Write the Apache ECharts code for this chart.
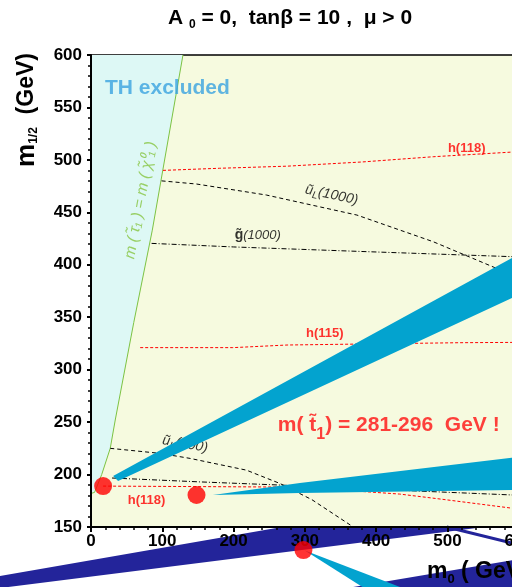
<!DOCTYPE html>
<html><head><meta charset="utf-8">
<script src="https://cdn.jsdelivr.net/npm/echarts@6/dist/echarts.min.js"></script>
<style>html,body{margin:0;padding:0;background:#fff}#c{width:512px;height:587px}</style>
</head><body><div id="c"></div>
<script>
// ---- data (m0, m1/2) in GeV ----
const thExcluded = [[0,182],[5,183],[15,200],[27,225],[34,252],[60,345],[86,433],[129,600],[0,600]];
const stauChiLine = [[0,182],[5,183],[15,200],[27,225],[34,252],[60,345],[86,433],[129,600]];
const h118Upper = [[101,490],[180,492],[275,494],[380,498],[480,503],[592,507.5]];
const h115 = [[69,321],[199,321],[275,323.5],[517,325.7],[592,326]];
const h118Lower = [[17,189],[293,188],[386,183.6],[433,181.4],[493,176.4],[545,171.9],[592,167.8]];
const uL1000 = [[99,480],[148,477],[246,466.5],[373,447.4],[480,422],[564,398],[600,388]];
const g1000 = [[85,420.4],[200,417],[387,412.5],[592,407.7]];
const g500 = [[29.5,196.7],[153,193],[265,190],[447,184.6],[592,180.5]];
const uL500 = [[27,225],[97,220.2],[139,215.4],[218,204.2],[265,191.5],[310,176],[368,150]];
const stopBand1 = [[31,198.6],[590.5,406.4],[650,428.5],[650,387],[590.5,368.3],[38,193.9]];
const stopBand2 = [[171,180.5],[293,192],[590,216],[650,221],[650,186],[590,185.3],[293,182.4]];
const bestPoints = [[17,189],[148,180.5],[298,128]];
// slide decorations that spill below the axis
const navyBandA = [[-200,94.7],[268,150],[552,150],[-200,85.6]];
const navyBandB = [[300,85],[700,131],[700,60],[300,60]];
const navyLine = [[499,150],[590.5,134.7],[650,124.8]];
const cyanTail = [[300,127.5],[452,88],[392,88]];
// label anchors
const h118UpperLabel = [527,511];
const h118LowerLabel = [78,175.7];
const h115Label = [328,334.6];
const uL1000Label = [337.5,466.5];
const g1000Label = [234,428];
const uL500Label = [132,229];
const thLabel = [19.6,568.5];
const stauLabel = [69.5,461.5];
const stopMassLabel = [262,247];

const FF = '"Liberation Sans", Arial, sans-serif';
const chart = echarts.init(document.getElementById('c'));

function poly(pts, color, z, clip) {
  return {
    type: 'custom', z: z, clip: clip, silent: true,
    data: [pts[0]],
    renderItem: function (params, api) {
      const points = pts.map(p => api.coord(p));
      return { type: 'polygon', shape: { points: points }, style: { fill: color } };
    }
  };
}
function line(data, color, type, z, width) {
  return { type: 'line', data: data, z: z, showSymbol: false, silent: true, clip: true,
    lineStyle: { color: color, width: width || 1, type: type } };
}
function lab(pos, text, style, z) {
  return { type: 'scatter', z: z, silent: true, clip: false, symbolSize: 0,
    data: [{ value: pos, label: Object.assign({ show: true, position: 'inside', formatter: text, fontFamily: FF }, style) }] };
}

const axisLabelStyle = { fontSize: 17, fontWeight: 'bold', color: '#000', fontFamily: FF,
  textShadowColor: 'rgba(0,0,0,0.35)', textShadowOffsetX: 1.5, textShadowOffsetY: 1, textShadowBlur: 0 };

const option = {
  animation: false,
  backgroundColor: '#ffffff',
  grid: { left: 91, top: 55, width: 499, height: 472, outerBoundsMode: 'none', containLabel: false,
          show: true, backgroundColor: '#F6FADF', borderColor: '#000', borderWidth: 1.5 },
  xAxis: { type: 'value', min: 0, max: 700, interval: 100, z: 10,
    axisLine: { lineStyle: { color: '#000', width: 2 } },
    axisTick: { length: 5, lineStyle: { color: '#000', width: 2 } },
    minorTick: { show: true, splitNumber: 5, length: 3, lineStyle: { color: '#000', width: 1.5 } },
    splitLine: { show: false },
    axisLabel: Object.assign({ margin: 6 }, axisLabelStyle) },
  yAxis: { type: 'value', min: 150, max: 600, interval: 50, z: 10,
    axisLine: { lineStyle: { color: '#000', width: 2 } },
    axisTick: { length: 4, lineStyle: { color: '#000', width: 2 } },
    minorTick: { show: true, splitNumber: 5, length: 3, lineStyle: { color: '#000', width: 1.5 } },
    splitLine: { show: false },
    axisLabel: Object.assign({ margin: 9 }, axisLabelStyle) },
  graphic: [
    { type: 'text', x: 290, y: 18, z: 20, style: { text: '{b|A }{s|0}{b| = 0,  tanβ = 10 ,  μ > 0}',
      align: 'center', verticalAlign: 'middle',
      rich: { b: { fontSize: 21, fontWeight: 'bold', fontFamily: FF, fill: '#000' },
              s: { fontSize: 12, fontWeight: 'bold', fontFamily: FF, fill: '#000', padding: [14, 0, 0, 0] } } } },
    { type: 'text', x: 27, y: 110, z: 20, rotation: Math.PI / 2, style: { text: '{m|m}{s|1/2}{b|  (GeV)}',
      align: 'center', verticalAlign: 'middle',
      rich: { m: { fontSize: 26, fontWeight: 'bold', fontFamily: FF, fill: '#000' },
              s: { fontSize: 12, fontWeight: 'bold', fontFamily: FF, fill: '#000', padding: [14, 0, 0, 0] },
              b: { fontSize: 23, fontWeight: 'bold', fontFamily: FF, fill: '#000' } } } },
    { type: 'text', x: 427, y: 572, z: 20, style: { text: '{m|m}{s|0}{b| ( GeV )}',
      align: 'left', verticalAlign: 'middle',
      rich: { m: { fontSize: 23, fontWeight: 'bold', fontFamily: FF, fill: '#000' },
              s: { fontSize: 13, fontWeight: 'bold', fontFamily: FF, fill: '#000', padding: [14, 0, 0, 0] },
              b: { fontSize: 23, fontWeight: 'bold', fontFamily: FF, fill: '#000' } } } }
  ],
  series: [
    poly(thExcluded, '#DDF8F5', 1, true),
    line(stauChiLine, '#7CC242', 'solid', 2, 1),
    line(h118Upper, '#FF0000', [3, 2], 2),
    line(h115, '#FF0000', [3, 2], 2),
    line(h118Lower, '#FF0000', [3, 2], 2),
    line(uL1000, '#000', [4, 3], 2),
    line(g1000, '#000', [5, 2, 1, 2], 2),
    line(g500, '#000', [5, 2, 1, 2], 2),
    line(uL500, '#000', [4, 3], 2),
    lab(h118UpperLabel, 'h(118)', { fontSize: 13, fontWeight: 'bold', color: '#FF0000' }, 3),
    lab(h118LowerLabel, 'h(118)', { fontSize: 13, fontWeight: 'bold', color: '#FF0000' }, 3),
    lab(h115Label, 'h(115)', { fontSize: 13, fontWeight: 'bold', color: '#FF0000' }, 3),
    lab(uL1000Label, '{a|ũ}{s|L}{a|(1000)}', { rotate: -12, rich: {
        a: { fontSize: 14, fontStyle: 'italic', color: '#000', fontFamily: FF },
        s: { fontSize: 10, fontStyle: 'italic', color: '#000', fontFamily: FF, padding: [8, 0, 0, 0] } } }, 3),
    lab(g1000Label, '{a|g̃}{b|(1000)}', { rich: {
        a: { fontSize: 14, fontWeight: 'bold', color: '#000', fontFamily: FF },
        b: { fontSize: 13, fontStyle: 'italic', color: '#000', fontFamily: FF } } }, 3),
    lab(uL500Label, '{a|ũ}{s|L}{a|(500)}', { rotate: -10, rich: {
        a: { fontSize: 14, fontStyle: 'italic', color: '#000', fontFamily: FF },
        s: { fontSize: 10, fontStyle: 'italic', color: '#000', fontFamily: FF, padding: [8, 0, 0, 0] } } }, 3),
    lab(thLabel, 'TH excluded', { fontSize: 21, fontWeight: 'bold', color: '#3AA3E0', align: 'left' }, 3),
    lab(stauLabel, 'm ( τ̃₁ ) = m ( χ̃⁰₁ )', { fontSize: 15.5, fontStyle: 'italic', color: '#86C440', rotate: 79.5 }, 3),
    poly(stopBand1, '#03A3CF', 4, true),
    poly(stopBand2, '#03A3CF', 4, true),
    poly(navyBandA, '#23249A', 4, false),
    poly(navyBandB, '#23249A', 4, false),
    { type: 'line', data: navyLine, z: 4, showSymbol: false, silent: true, clip: false,
      lineStyle: { color: '#23249A', width: 3 } },
    poly(cyanTail, '#03A3CF', 5, false),
    { type: 'scatter', data: bestPoints, z: 12, clip: false, symbolSize: 18, silent: true,
      itemStyle: { color: '#FF0000' } },
    lab(stopMassLabel, '{a|m( }{a|t̃}{s|1}{a|) = 281-296  GeV !}', { align: 'left', rich: {
        a: { fontSize: 21, fontWeight: 'bold', color: '#FF1010', fontFamily: FF },
        s: { fontSize: 16, fontWeight: 'bold', color: '#FF1010', fontFamily: FF, padding: [18, 0, 0, 0] } } }, 12)
  ]
};
chart.setOption(option);
</script></body></html>
